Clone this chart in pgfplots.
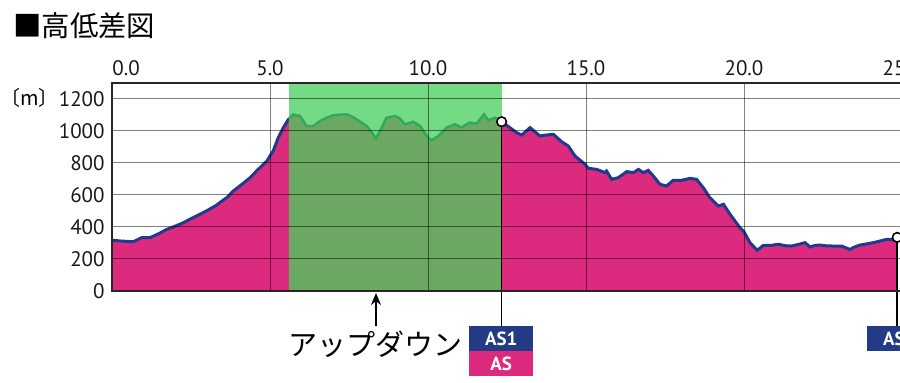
\documentclass[border=0pt]{standalone}
\usepackage{pgfplots}
\usepackage{pgfplotstable}
\pgfplotsset{compat=1.18}
\usetikzlibrary{arrows.meta}
\usepackage{fontspec}
\setmainfont{PT Sans}
\newfontfamily\jp{Noto Sans CJK JP}
\definecolor{mag}{HTML}{DC2A7F}
\definecolor{navy}{HTML}{1F3C8C}
\definecolor{lgreen}{HTML}{74DB84}
\definecolor{ogreen}{HTML}{6BA862}
\definecolor{lineg}{HTML}{31A85E}
\definecolor{boxblue}{HTML}{233A85}

\pgfplotstableread{
x y
0 317
0.3 312
0.67 308
0.94 333
1.2 333
1.5 360
1.73 385
2.0 405
2.26 427
2.5 452
2.78 479
3.05 507
3.31 537
3.5 565
3.63 583
3.84 625
4.1 665
4.37 708
4.6 755
4.9 812
5.1 875
5.26 958
5.42 1021
5.6 1078
}\partone

\pgfplotstableread{
x y
5.6 1078
5.74 1104
5.95 1094
6.16 1031
6.37 1031
6.58 1062
6.79 1083
7.0 1098
7.2 1102
7.43 1104
7.6 1090
7.74 1073
8.06 1031
8.25 985
8.35 954
8.48 1000
8.69 1083
8.96 1094
9.1 1080
9.27 1042
9.4 1050
9.53 1058
9.75 1031
10.0 958
10.11 942
10.33 969
10.59 1021
10.85 1042
11.07 1021
11.2 1040
11.33 1052
11.54 1046
11.77 1104
11.91 1067
12.12 1083
12.33 1058
}\parttwo

\pgfplotstableread{
x y
12.33 1058
12.59 1021
12.81 989
12.97 975
13.23 1021
13.54 969
13.75 975
13.97 979
14.23 933
14.44 906
14.65 844
14.97 792
15.07 767
15.34 760
15.6 740
15.65 750
15.81 698
16.02 708
16.29 746
16.5 740
16.66 760
16.81 740
16.97 754
17.13 719
17.34 667
17.55 656
17.76 692
18.03 692
18.29 704
18.5 698
18.71 646
18.92 583
19.19 531
19.35 542
19.56 479
19.87 396
20.0 370
20.19 302
20.42 254
20.61 285
20.85 285
21.09 292
21.3 283
21.51 281
21.7 290
21.93 302
22.09 275
22.25 285
22.41 287
22.6 282
22.83 281
23.1 280
23.35 260
23.5 275
23.67 287
23.9 295
24.09 302
24.3 312
24.52 323
24.7 320
24.85 335
}\partthree

\begin{document}
\begin{tikzpicture}[x=1pt,y=1pt]
\useasboundingbox (0,0) rectangle (450,191.5);
\clip (0,0) rectangle (450,191.5);
\node[anchor=west, inner sep=0pt, font=\jp\fontsize{14.2}{16}\selectfont] at (6.5,178.5) {■高低差図};
\node[anchor=center, inner sep=0pt, font=\jp\fontsize{10}{12}\selectfont] at (14.8,142.3) {〔m〕};
\begin{axis}[
  at={(56pt,46pt)}, anchor=south west,
  scale only axis, width=410.8pt, height=104pt,
  xmin=0, xmax=26, ymin=0, ymax=1300,
  clip=false,
  axis on top,
  xtick={5,10,15,20,25},
  xticklabels={5.0,10.0,15.0,20.0,25.0},
  xticklabel pos=upper,
  ytick={0,200,...,1200},
  major tick length=0pt,
  grid=major,
  major grid style={black, opacity=0.5, line width=0.5pt},
  axis line style={black!85, line width=1pt},
  /pgf/number format/assume math mode=true,
  /pgf/number format/1000 sep={},
  ticklabel style={font=\fontsize{10.5}{12}\selectfont, text=black!90},
  xticklabel style={anchor=south, inner sep=0pt, yshift=3.5pt},
  yticklabel style={anchor=east, inner sep=0pt, xshift=-3.5pt},
]
\addplot[fill=mag, draw=none] table {\partone} \closedcycle;
\addplot[fill=mag, draw=none] table {\partthree} \closedcycle;
\addplot[navy, line width=1.5pt] table {\partone};
\addplot[navy, line width=1.5pt] table {\partthree};
\addplot[fill=lgreen, draw=none] coordinates {(5.6,1300) (12.33,1300)} \closedcycle;
\addplot[fill=ogreen, draw=none] table {\parttwo} \closedcycle;
\addplot[lineg, line width=1.2pt] table {\parttwo};
\draw[black, line width=0.8pt] (axis cs:12.33,1058) -- ([yshift=-17.5pt]axis cs:12.33,0);
\draw[black, line width=0.8pt] (axis cs:24.85,335) -- ([yshift=-17.5pt]axis cs:24.85,0);
\addplot[only marks, mark=*, mark size=2.4pt, mark options={fill=white, draw=black, line width=0.8pt}] coordinates {(12.33,1058) (24.85,335)};
\node[anchor=south west, inner sep=0pt, yshift=3.5pt, font=\fontsize{10.5}{12}\selectfont, text=black!90] at (rel axis cs:0,1) {0.0};
\end{axis}
\draw[-{Stealth[length=6pt,width=5pt]}, line width=1pt] (188,28.5) -- (188,45);
\node[inner sep=0pt, font=\jp\fontsize{14.5}{16}\selectfont] at (187.75,19.5) {アップダウン};
\node[fill=boxblue, minimum width=32pt, minimum height=12.5pt, inner sep=0pt, text=white, font=\bfseries\fontsize{9.5}{10}\selectfont] at (250.6,22.25) {AS1};
\node[fill=mag, minimum width=32pt, minimum height=12.5pt, inner sep=0pt, text=white, font=\bfseries\fontsize{9.5}{10}\selectfont] at (250.6,9.75) {AS};
\node[fill=boxblue, minimum width=32pt, minimum height=12.5pt, inner sep=0pt, text=white, font=\bfseries\fontsize{9.5}{10}\selectfont] at (449.6,22.25) {AS2};
\end{tikzpicture}
\end{document}
